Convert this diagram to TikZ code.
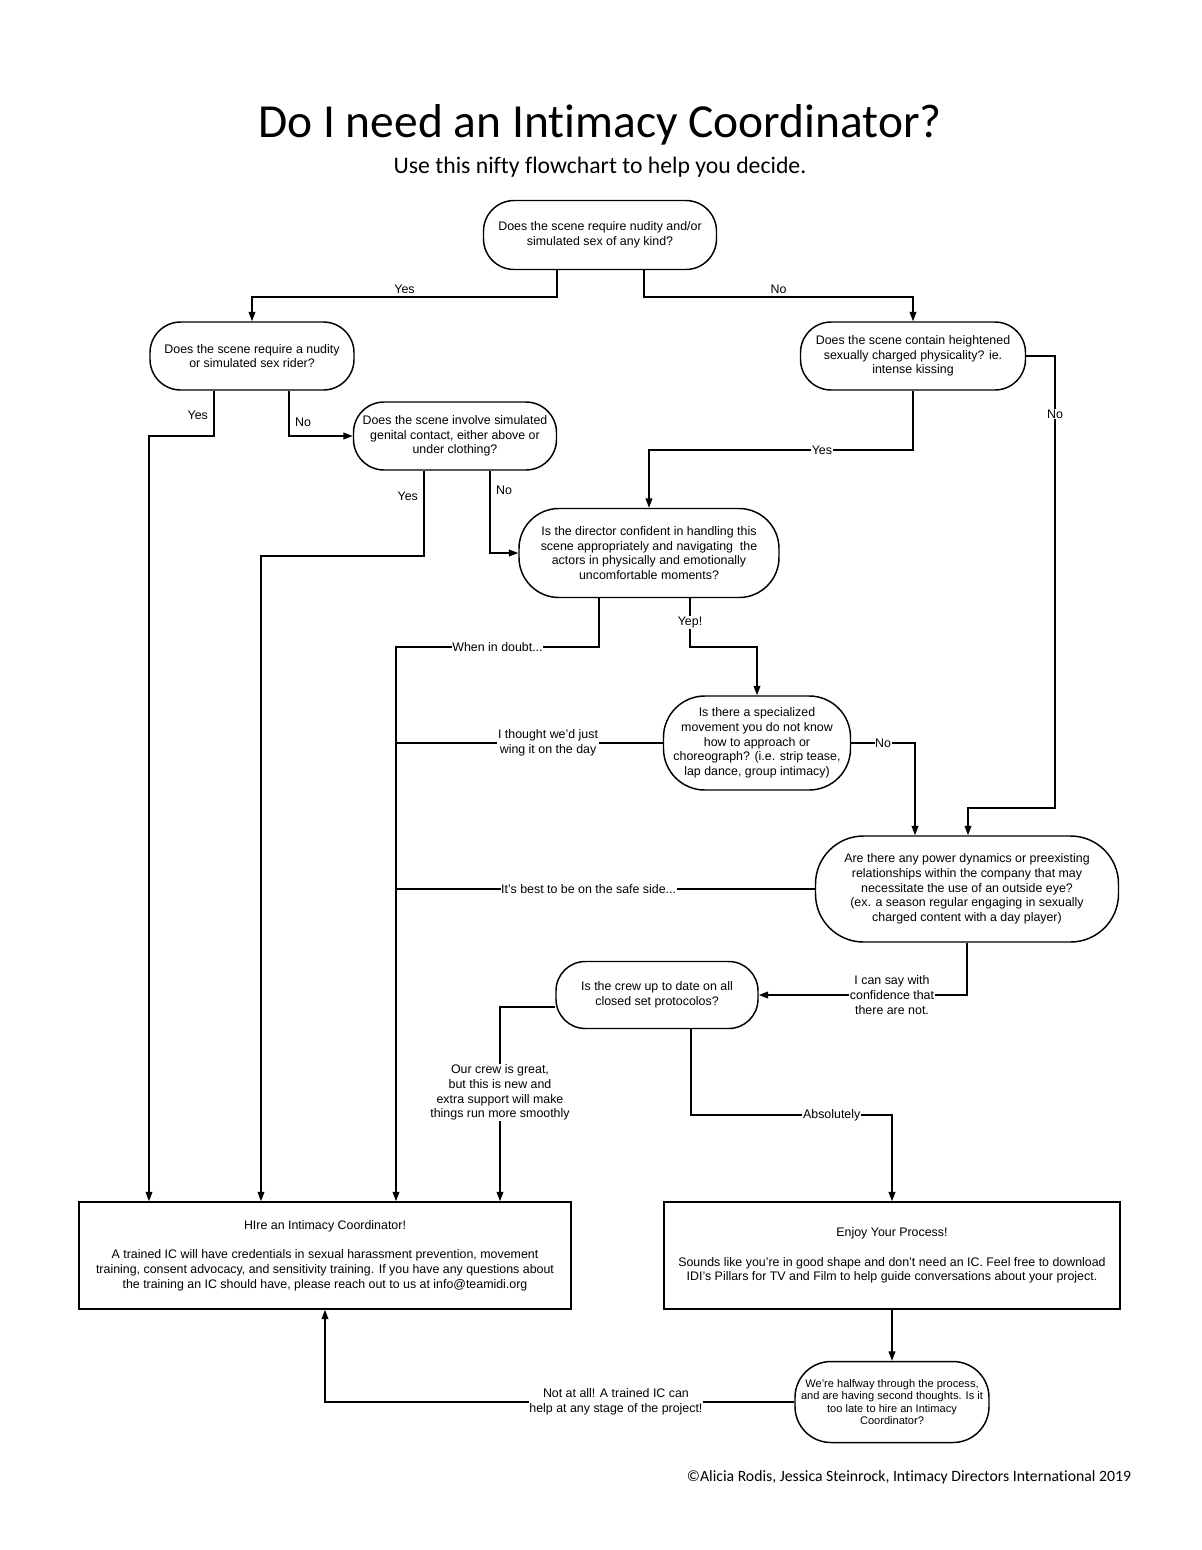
\documentclass[tikz,border=0pt]{standalone}
\usepackage{fontspec}
\setmainfont{Liberation Sans}
\newfontfamily\titlefont[Ligatures=NoCommon]{Carlito}
\usetikzlibrary{arrows.meta}
\begin{document}
\begin{tikzpicture}[x=0.75pt,y=-0.75pt,
  lbl/.style={font=\fontsize{9.3}{11}\selectfont, align=center, inner sep=1pt},
  dec/.style={draw, line width=1.1pt, align=center, inner sep=0pt, font=\fontsize{9.3}{11}\selectfont},
  box/.style={draw, line width=1.1pt, align=center, inner sep=0pt, font=\fontsize{9.3}{11}\selectfont},
  ln/.style={line width=1.1pt},
  arr/.style={line width=1.1pt, -{Triangle[length=7pt,width=5pt]}},
  onl/.style={lbl, fill=white, inner sep=0.5pt}
]
\useasboundingbox (0,0) rectangle (1202,1550);
\fill[white] (0,0) rectangle (1202,1550);

% titles
\node[font=\titlefont\fontsize{35.6}{40}\selectfont, inner sep=0] (title) at (600,125) {Do I need an Intimacy Coordinator?};
\node[font=\titlefont\fontsize{17.8}{20}\selectfont, inner sep=0] (sub) at (600,167) {Use this nifty flowchart to help you decide.};
\node[font=\titlefont\fontsize{11.8}{14}\selectfont, inner sep=0] (foot) at (909,1477) {©Alicia Rodis, Jessica Steinrock, Intimacy Directors International 2019};

% decision nodes
\node[dec, minimum width=174.75pt, minimum height=51.75pt, rounded corners=23pt] (top) at (600,235)
  {Does the scene require nudity and/or\\simulated sex of any kind?};
\node[dec, minimum width=153pt, minimum height=51pt, rounded corners=23pt] (left) at (252,356)
  {Does the scene require a nudity\\or simulated sex rider?};
\node[dec, minimum width=168.75pt, minimum height=51pt, rounded corners=23pt] (right) at (913,356)
  {Does the scene contain heightened\\sexually charged physicality? ie.\\intense kissing};
\node[dec, minimum width=152.25pt, minimum height=51pt, rounded corners=23pt] (q4) at (455,436)
  {Does the scene involve simulated\\genital contact, either above or\\under clothing?};
\node[dec, minimum width=195pt, minimum height=66.75pt, rounded corners=30pt] (dir) at (649,553)
  {Is the director confident in handling this\\scene appropriately and navigating\ \ the\\actors in physically and emotionally\\uncomfortable moments?};
\node[dec, minimum width=140.25pt, minimum height=70.5pt, rounded corners=31pt] (spec) at (757,743)
  {Is there a specialized\\movement you do not know\\how to approach or\\choreograph? (i.e. strip tease,\\lap dance, group intimacy)};
\node[dec, minimum width=227.25pt, minimum height=79.5pt, rounded corners=36pt] (pow) at (967,889)
  {Are there any power dynamics or preexisting\\relationships within the company that may\\necessitate the use of an outside eye?\\(ex. a season regular engaging in sexually\\charged content with a day player)};
\node[dec, minimum width=151.5pt, minimum height=50.25pt, rounded corners=22pt] (crew) at (657,995)
  {Is the crew up to date on all\\closed set protocolos?};
\node[box, minimum width=369pt, minimum height=80.25pt] (hire) at (325,1255.5)
  {HIre an Intimacy Coordinator!\\[11pt]A trained IC will have credentials in sexual harassment prevention, movement\\training, consent advocacy, and sensitivity training. If you have any questions about\\the training an IC should have, please reach out to us at info@teamidi.org};
\node[box, minimum width=342pt, minimum height=80.25pt] (enjoy) at (892,1255.5)
  {Enjoy Your Process!\\[11pt]Sounds like you're in good shape and don't need an IC. Feel free to download\\IDI's Pillars for TV and Film to help guide conversations about your project.};
\node[dec, minimum width=145.5pt, minimum height=60.75pt, rounded corners=27pt, font=\fontsize{8.3}{9.2}\selectfont] (half) at (892,1402)
  {We're halfway through the process,\\and are having second thoughts. Is it\\too late to hire an Intimacy\\Coordinator?};

% connectors
\draw[arr] (557,0 |- top.south) -- (557,297) -| node[lbl, pos=0.25, above=1pt]{Yes} (left.north);
\draw[arr] (644,0 |- top.south) -- (644,297) -| node[lbl, pos=0.25, above=1pt]{No} (right.north);

\draw[arr] (214,0 |- left.south) -- node[lbl, pos=0.55, left=3pt]{Yes} (214,436) -- (149,436) -- (149,0 |- hire.north);
\draw[arr] (289,0 |- left.south) |- node[lbl, pos=0.35, right=3pt]{No} (q4.west);

\draw[arr] (424,0 |- q4.south) -- node[lbl, pos=0.3, left=3pt]{Yes} (424,556) -| (261,0 |- hire.north);
\draw[arr] (490,0 |- q4.south) |- node[lbl, pos=0.12, right=3pt]{No} (dir.west);

\draw[arr] (right.south) -- (913,450) -- node[onl, pos=0.345]{Yes} (649,450) -- (dir.north);
\draw[arr] (right.east) -| node[onl, pos=0.564]{No} (1055,808) -| (968,0 |- pow.north);

\draw[arr] (599,0 |- dir.south) -- (599,647) -- node[onl]{When in doubt...} (396,647) -- (396,0 |- hire.north);
\draw[arr] (690,0 |- dir.south) -- node[onl, pos=0.5]{Yep!} (690,647) -| (spec.north);

\draw[ln] (spec.west) -- node[onl, pos=0.43]{I thought we'd just\\wing it on the day} (396,0 |- spec.west);
\draw[arr] (spec.east) -| node[onl, pos=0.25]{No} (915,0 |- pow.north);

\draw[ln] (pow.west) -- node[onl, pos=0.54]{It's best to be on the safe side...} (396,0 |- pow.west);
\draw[arr] (pow.south) |- node[onl, pos=0.68]{I can say with\\confidence that\\there are not.} (crew.east);

\draw[arr] ([yshift=-9pt]crew.west) -| node[onl, pos=0.72]{Our crew is great,\\but this is new and\\extra support will make\\things run more smoothly} (500,0 |- hire.north);
\draw[arr] (691,0 |- crew.south) -- (691,1115) -| node[onl, pos=0.35]{Absolutely} (enjoy.north);

\draw[arr] (enjoy.south) -- (half.north);
\draw[arr] (half.west) -| node[onl, pos=0.19]{Not at all! A trained IC can\\help at any stage of the project!} (hire.south);
\end{tikzpicture}
\end{document}
